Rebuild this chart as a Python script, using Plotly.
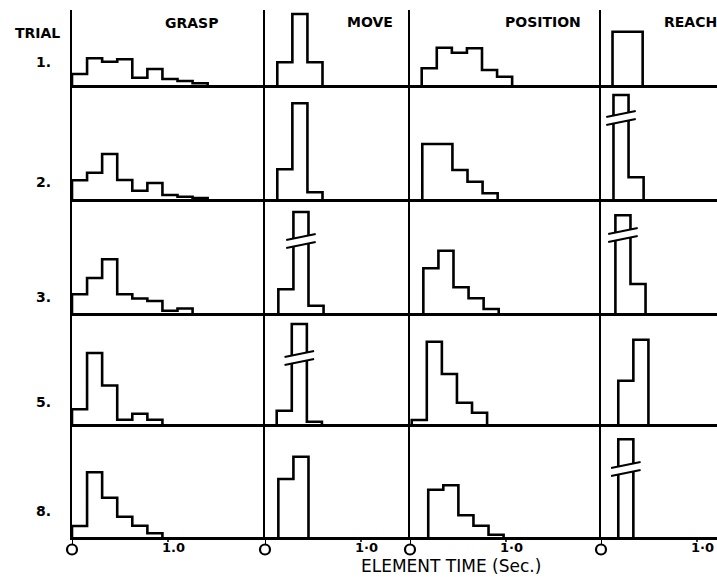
import plotly.graph_objects as go

# ---------------- data ----------------
elements = ["GRASP", "MOVE", "POSITION", "REACH"]
trials = ["1.", "2.", "3.", "5.", "8."]
BIN = 0.157  # class width of the histograms, seconds

# start time (s) of the first class for each trial, and class heights (relative frequency)
grasp_start = [0.0, 0.0, 0.0, 0.0, 0.0]
grasp_heights = [
    [11, 26.7, 23.3, 25.7, 7.3, 16, 6, 4, 1.7],
    [18.7, 26.3, 45, 19, 8.3, 16, 4, 2.3, 1],
    [18.7, 35, 53.7, 18.7, 14.5, 12, 2.3, 4.5],
    [14.7, 71, 38.5, 4.3, 10.3, 4.3],
    [11, 64.7, 39.3, 20.3, 11.3, 3.7],
]
move_start = [0.128, 0.128, 0.139, 0.122, 0.139]
move_heights = [
    [22.7, 71, 22.7],
    [29.7, 95.7, 6.7],
    [23.7, 101, 7.3],
    [13.3, 100, 2.3],
    [58, 80.3],
]
position_start = [0.122, 0.128, 0.139, 0.018, 0.19]
position_heights = [
    [16.7, 37.3, 32.3, 36.7, 15, 8.3],
    [55, 55, 29, 17.3, 5.7],
    [44.7, 62.3, 25.7, 14.7, 4],
    [4, 82.3, 50, 21.3, 11.3],
    [47.3, 51.7, 21.7, 11.3, 2.3],
]
reach_start = [0.12, 0.13, 0.15, 0.18, 0.18]
reach_heights = [
    [53.3, 53.3],
    [104, 21.7],
    [97.7, 29],
    [43.3, 84.3],
    [97.7],
]
# off-scale (broken) classes: (element index, trial index, class index, break level)
breaks = [(1, 2, 1, 72), (1, 3, 1, 66), (3, 1, 0, 81), (3, 2, 0, 78), (3, 4, 0, 68)]

tick_values = [0.0, 1.0]
tick_labels = ["1.0", "1·0", "1·0", "1·0"]
x_title = "ELEMENT TIME (Sec.)"

starts = [grasp_start, move_start, position_start, reach_start]
heights = [grasp_heights, move_heights, position_heights, reach_heights]

# ---------------- layout geometry ----------------
W, H = 717, 577
PX_PER_SEC = 96.0
col_edges = [72, 265, 410, 601, 717]
row_edges = [10, 85, 199, 313, 424, 537]
SCALE_BOTTOM = 566
INK = "#000000"
FONT = "DejaVu Sans"


def ax_id(r, c):
    return r * 4 + c + 1


def ax_names(n):
    return ("xaxis" if n == 1 else f"xaxis{n}", "yaxis" if n == 1 else f"yaxis{n}",
            "x" if n == 1 else f"x{n}", "y" if n == 1 else f"y{n}")


fig = go.Figure()
layout_axes = {}

for r in range(6):
    for c in range(4):
        n = ax_id(r, c)
        xa, ya, xr, yr = ax_names(n)
        x0, x1 = col_edges[c], col_edges[c + 1]
        scale_row = r == 5
        if scale_row:
            y0, y1 = row_edges[-1], SCALE_BOTTOM
            yrange = [-(y1 - y0), 0]
        else:
            y0, y1 = row_edges[r], row_edges[r + 1]
            yrange = [0, y1 - y0]
        layout_axes[xa] = dict(
            domain=[x0 / W, x1 / W], range=[0, (x1 - x0) / PX_PER_SEC], anchor=yr,
            showgrid=False, zeroline=False, showticklabels=False, ticks="",
            showline=not scale_row, linecolor=INK, linewidth=2.5, fixedrange=True,
        )
        layout_axes[ya] = dict(
            domain=[1 - y1 / H, 1 - y0 / H], range=yrange, anchor=xr,
            showgrid=False, zeroline=False, showticklabels=False, ticks="",
            showline=not scale_row, linecolor=INK, linewidth=1.6 if c == 0 else 2.2,
            fixedrange=True,
        )
        if scale_row:
            continue

        # histogram outline
        s = starts[c][r]
        h = heights[c][r]
        xs = [s] + [s + i * BIN for i in range(len(h) + 1)]
        ys = [0] + list(h) + [0]
        fig.add_trace(go.Scatter(
            x=xs, y=ys, xaxis=xr, yaxis=yr, mode="lines",
            line=dict(color=INK, width=2.6, shape="hv"),
            hoverinfo="skip", showlegend=False, cliponaxis=False,
        ))

# break marks on off-scale classes
for (c, r, k, yb) in breaks:
    n = ax_id(r, c)
    _, _, xr, yr = ax_names(n)
    xl = starts[c][r] + k * BIN
    xrgt = xl + BIN
    ext = 0.075
    fig.add_trace(go.Scatter(
        x=[xl - ext, xrgt + ext, xrgt + ext, xl - ext, xl - ext],
        y=[yb - 7, yb - 1, yb + 7, yb + 1, yb - 7],
        xaxis=xr, yaxis=yr, mode="lines", fill="toself", fillcolor="white",
        line=dict(width=0, color="white"), hoverinfo="skip", showlegend=False, cliponaxis=False,
    ))
    for dy in (-7, 1):
        fig.add_trace(go.Scatter(
            x=[xl - ext, xrgt + ext], y=[yb + dy, yb + dy + 6],
            xaxis=xr, yaxis=yr, mode="lines", line=dict(color=INK, width=2),
            hoverinfo="skip", showlegend=False, cliponaxis=False,
        ))

annotations = []
# bottom scale: 0 circles, 1.0 ticks
for c in range(4):
    n = ax_id(5, c)
    _, _, xr, yr = ax_names(n)
    fig.add_trace(go.Scatter(x=[tick_values[0]] * 2, y=[0, -8], xaxis=xr, yaxis=yr, mode="lines",
                             line=dict(color=INK, width=2), hoverinfo="skip",
                             showlegend=False, cliponaxis=False))
    fig.add_trace(go.Scatter(x=[tick_values[1]] * 2, y=[0, -5], xaxis=xr, yaxis=yr, mode="lines",
                             line=dict(color=INK, width=1.5), hoverinfo="skip",
                             showlegend=False, cliponaxis=False))
    fig.add_trace(go.Scatter(x=[tick_values[0]], y=[-12.5], xaxis=xr, yaxis=yr, mode="markers",
                             marker=dict(symbol="circle-open", size=10, color=INK,
                                         line=dict(width=2.2, color=INK)),
                             hoverinfo="skip", showlegend=False, cliponaxis=False))
    annotations.append(dict(x=tick_values[1], y=-10.5, xref=xr, yref=yr,
                            text=f"<b>{tick_labels[c]}</b>",
                            showarrow=False, xanchor="center", yanchor="middle", xshift=5,
                            font=dict(family=FONT, size=13, color=INK)))

# column titles
title_pos = [(192, 23, "center"), (370, 22, "center"), (543, 22, "center"), (662, 22, "left")]
for name, (px, py, anc) in zip(elements, title_pos):
    annotations.append(dict(x=px / W, y=1 - py / H, xref="paper", yref="paper", text=f"<b>{name}</b>",
                            showarrow=False, xanchor=anc, yanchor="middle",
                            font=dict(family=FONT, size=14, color=INK)))

annotations.append(dict(x=37 / W, y=1 - 33 / H, xref="paper", yref="paper", text="<b>TRIAL</b>",
                        showarrow=False, xanchor="center", yanchor="middle",
                        font=dict(family=FONT, size=14, color=INK)))
trial_y = [62, 182, 297, 402, 511]
for t, py in zip(trials, trial_y):
    annotations.append(dict(x=53 / W, y=1 - py / H, xref="paper", yref="paper", text=f"<b>{t}</b>",
                            showarrow=False, xanchor="right", yanchor="middle",
                            font=dict(family=FONT, size=14, color=INK)))

annotations.append(dict(x=451 / W, y=1 - 578 / H, xref="paper", yref="paper", text=x_title,
                        showarrow=False, xanchor="center", yanchor="bottom",
                        font=dict(family=FONT, size=17, color=INK)))

fig.update_layout(
    width=W, height=H, margin=dict(l=0, r=0, t=0, b=0),
    paper_bgcolor="white", plot_bgcolor="rgba(0,0,0,0)",
    showlegend=False, annotations=annotations, **layout_axes,
)

fig.write_html("out.html")
